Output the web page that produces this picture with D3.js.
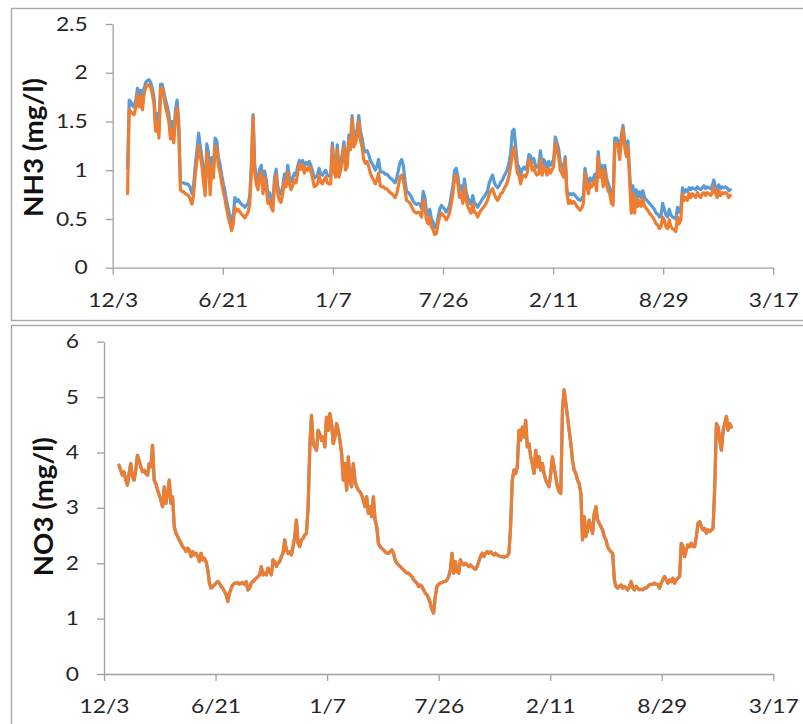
<!DOCTYPE html>
<html>
<head>
<meta charset="utf-8">
<script src="https://cdn.jsdelivr.net/npm/d3@7"></script>
<style>
  html, body { margin: 0; padding: 0; background: #fff; }
  svg { display: block; }
</style>
</head>
<body>
<svg id="chart" width="803" height="724"></svg>
<script>
// Sampling: one reading every 3 days, starting 2013-12-30
const seriesStart = "2013-12-30";
const stepDays = 3;

// Date axis: major unit of 200 days
const xTickDates = ["2013-12-03", "2014-06-21", "2015-01-07", "2015-07-26", "2016-02-11", "2016-08-29", "2017-03-17"];
const nh3Ticks = [0, 0.5, 1, 1.5, 2, 2.5];
const no3Ticks = [0, 1, 2, 3, 4, 5, 6];

// NH3 (mg/l), probe 1 (blue)
const nh3Probe1 = [
  1.02,
  1.72,1.70,1.66,1.65,1.72,1.84,1.74,1.82,1.70,1.84,1.90,1.92,1.93,1.90,1.84,1.75,1.48,1.58,1.40,1.88,1.88,1.80,1.72,1.66,1.58,1.40,1.50,1.36,1.62,1.72,1.50,
  0.88,0.87,0.87,0.86,0.86,0.85,0.82,0.76,
  0.85,1.05,1.20,1.38,1.25,1.13,0.97,0.84,1.27,1.17,0.85,1.13,1.02,1.33,1.30,1.13,1.06,0.95,0.86,0.78,0.68,0.60,0.53,0.46,0.54,0.72,0.68,0.70,0.67,0.65,0.64,0.62,0.64,0.66,0.74,
  1.08,1.57,1.05,0.93,0.88,1.01,1.05,0.84,0.99,0.90,0.74,0.77,0.70,0.66,0.93,1.01,0.83,0.77,0.75,0.84,0.96,0.91,1.05,0.94,0.88,0.92,0.97,0.95,1.04,1.10,1.07,1.10,1.04,1.08,1.06,1.09,1.05,0.99,0.92,0.93,0.95,1.02,0.96,0.95,0.98,1.00,
  0.95,0.94,0.94,1.28,1.07,1.01,1.26,1.01,1.07,1.17,1.29,1.07,1.11,1.36,1.28,
  1.56,1.32,1.36,1.42,1.56,1.40,1.33,
  1.22,1.19,1.20,1.16,1.10,1.07,1.04,1.00,1.04,1.11,0.99,0.98,0.98,0.96,0.96,0.94,0.92,0.91,0.89,0.87,0.92,1.00,1.08,1.11,1.05,
  0.89,0.78,0.77,0.75,0.72,0.68,0.66,0.65,0.66,0.65,0.61,0.78,0.72,0.58,0.54,0.60,0.50,0.47,0.41,0.42,0.52,0.60,0.64,0.62,0.60,0.57,0.60,0.64,
  0.74,0.84,1.00,1.02,0.94,0.80,0.84,0.75,0.91,0.78,0.72,0.68,0.65,0.74,0.66,0.65,0.62,0.65,0.68,0.71,0.73,0.76,0.79,
  0.87,0.91,0.95,0.88,0.84,0.82,0.84,0.88,0.90,0.94,0.97,1.01,1.08,1.18,
  1.40,1.42,1.25,1.06,1.03,0.95,1.01,1.03,1.01,1.05,1.16,1.15,1.08,1.12,
  1.05,1.03,1.05,1.20,1.03,1.11,1.08,1.03,1.09,1.05,1.08,1.11,1.34,1.28,1.22,1.08,1.05,1.01,1.14,
  0.80,0.74,0.76,0.75,0.76,0.74,0.72,0.70,0.69,0.71,0.74,
  1.02,0.92,0.83,0.92,0.89,0.92,0.96,0.86,1.19,0.99,1.05,0.89,1.05,0.92,0.86,0.82,0.72,0.70,
  1.33,1.33,1.30,1.18,1.36,1.46,1.30,1.24,1.30,0.98,
  0.66,0.84,0.66,0.80,0.72,0.78,0.72,0.79,0.72,0.70,0.68,0.66,0.64,0.62,0.60,0.56,0.55,0.52,0.53,
  0.66,0.60,0.54,0.52,0.60,0.54,0.52,0.51,0.50,0.62,0.57,0.60,
  0.82,0.77,0.80,0.78,0.82,0.80,0.82,0.81,0.80,0.83,0.81,0.80,0.82,0.84,0.81,0.83,0.82,0.81,0.84,0.90,0.82,0.80,0.85,0.81,0.83,0.82,0.83,0.82,0.79,0.80
];

// NH3 (mg/l), probe 2 (orange)
const nh3Probe2 = [
  0.76,1.62,1.60,1.58,1.57,1.65,1.78,1.65,1.75,1.62,
  1.78,1.85,1.87,1.88,1.85,1.78,1.68,1.40,1.50,1.33,
  1.84,1.84,1.75,1.65,1.58,1.50,1.32,1.42,1.28,1.55,
  1.64,1.40,0.80,0.78,0.78,0.76,0.75,0.74,0.70,0.65,
  0.75,0.95,1.10,1.25,1.15,1.05,0.88,0.74,1.18,1.08,
  0.75,1.05,0.92,1.25,1.22,1.05,0.98,0.87,0.78,0.70,
  0.60,0.52,0.45,0.38,0.45,0.62,0.58,0.60,0.57,0.55,
  0.53,0.51,0.54,0.57,0.65,1.00,1.55,0.98,0.85,0.80,
  0.94,0.98,0.76,0.92,0.82,0.66,0.69,0.62,0.58,0.86,
  0.95,0.75,0.69,0.67,0.77,0.89,0.83,0.98,0.86,0.80,
  0.84,0.90,0.87,0.97,1.06,1.01,1.06,0.97,1.02,1.00,
  1.04,0.99,0.92,0.83,0.84,0.86,0.95,0.88,0.86,0.90,
  0.93,
  0.87,0.86,0.86,1.24,1.00,0.93,1.21,0.93,1.00,1.11,
  1.24,1.00,1.04,1.31,1.21,1.53,1.24,1.28,1.35,1.50,
  1.31,1.24,1.11,1.07,1.09,1.04,0.97,0.93,0.90,0.86,
  0.90,0.97,0.84,0.83,0.83,0.81,0.81,0.79,0.77,0.76,
  0.74,0.72,0.76,0.84,0.93,0.95,0.90,0.79,0.69,0.68,
  0.66,0.63,0.59,0.57,0.56,0.57,0.56,0.52,0.69,0.63,
  0.49,0.45,0.52,0.42,0.39,0.34,0.35,0.45,0.52,0.56,
  0.54,0.52,0.49,0.52,0.56,0.66,0.76,0.93,0.95,0.86,
  0.72,0.76,0.66,0.83,0.69,0.63,0.59,0.56,0.66,0.57,
  0.56,0.52,0.56,0.59,0.61,0.63,0.66,0.69,0.76,0.79,
  0.81,0.76,0.72,0.69,0.72,0.76,0.77,0.81,0.84,0.88,
  0.95,1.04,1.18,1.24,1.11,0.97,0.95,0.86,0.93,0.95,
  0.93,0.97,1.11,1.09,1.00,1.04,
  0.97,0.95,0.97,1.11,0.95,1.04,1.00,0.95,1.02,0.97,
  1.00,1.04,1.28,1.21,1.14,1.00,0.97,0.93,1.11,0.76,
  0.66,0.69,0.66,0.68,0.66,0.63,0.61,0.59,0.61,0.66,
  0.97,0.86,0.76,0.86,0.83,0.86,0.90,0.79,1.14,0.93,
  1.00,0.83,1.00,0.86,0.79,0.76,0.66,0.64,1.24,1.28,
  1.24,1.11,1.31,1.43,1.24,1.14,1.24,0.90,0.56,0.76,
  0.56,0.72,0.63,0.69,0.63,0.71,0.63,0.61,0.59,0.56,
  0.54,0.52,0.49,0.45,0.44,0.40,0.42,0.52,0.49,0.42,
  0.40,0.49,0.42,0.40,0.39,0.37,0.52,0.45,0.49,0.76,
  0.69,0.72,0.69,0.76,0.72,0.76,0.74,0.72,0.77,0.74,
  0.72,0.76,0.77,0.74,0.77,0.76,0.74,0.77,0.83,0.76,
  0.72,0.79,0.74,0.77,0.76,0.77,0.76,0.72,0.74
];

// NO3 (mg/l); both probes agree to within the line width, so one array serves both
const no3Values = [
  3.77,3.68,3.59,3.65,3.50,3.41,3.62,3.80,3.56,3.50,
  3.68,3.95,3.86,3.74,3.65,3.68,3.62,3.59,3.80,3.74,
  4.13,3.50,3.44,3.32,3.23,3.14,3.02,3.38,3.08,3.26,
  3.50,3.08,3.20,2.66,2.54,2.48,2.42,2.36,2.30,2.27,
  2.21,2.27,2.24,2.12,2.21,2.15,2.18,2.12,2.03,2.18,
  2.06,2.09,2.03,1.88,1.64,1.55,1.58,1.61,1.64,1.67,
  1.64,1.58,1.55,1.49,1.43,1.31,1.46,1.55,1.61,1.64,
  1.64,1.65,1.62,1.64,1.65,1.62,1.67,1.52,1.55,1.64,
  1.67,1.70,1.73,1.76,1.79,1.94,1.79,1.82,1.79,1.91,
  1.85,1.79,2.06,2.03,1.94,2.00,2.03,2.12,2.18,2.42,
  2.24,2.18,2.21,2.15,2.30,2.48,2.78,2.36,2.30,2.42,
  2.45,2.51,2.54,3.02,4.10,4.67,4.16,4.10,4.04,4.40,
  4.34,
  4.22,4.28,4.10,4.64,4.40,4.70,4.52,4.16,4.28,4.52,
  4.40,4.22,3.98,3.50,3.80,3.32,3.92,3.50,3.38,3.80,
  3.50,3.38,3.32,3.29,3.23,3.14,3.02,3.20,2.90,3.02,
  2.84,3.20,2.78,2.66,2.36,2.30,2.27,2.24,2.21,2.18,
  2.18,2.21,2.24,2.18,2.06,2.00,1.97,1.94,1.91,1.88,
  1.85,1.82,1.82,1.79,1.76,1.70,1.67,1.64,1.58,1.61,
  1.58,1.52,1.46,1.43,1.37,1.28,1.16,1.10,1.40,1.58,
  1.62,1.64,1.65,1.67,1.67,1.70,1.76,1.88,2.18,1.82,
  2.03,1.85,1.82,2.06,2.00,1.97,2.00,1.97,1.94,1.97,
  1.94,1.91,1.89,1.94,2.03,2.12,2.18,2.12,2.18,2.21,
  2.18,2.21,2.18,2.15,2.18,2.15,2.13,2.12,2.12,2.11,
  2.12,2.13,2.18,2.66,3.50,3.68,3.62,3.74,4.40,4.22,
  4.46,
  4.28,4.58,4.10,4.16,3.92,3.80,3.62,4.04,3.74,3.92,
  3.68,3.80,3.62,3.50,3.44,3.38,3.62,3.92,3.74,3.56,
  3.38,3.29,3.26,4.77,5.13,4.89,4.65,4.40,4.16,3.86,
  3.68,3.62,3.50,3.44,3.26,2.42,2.84,2.48,2.60,2.78,
  2.66,2.54,2.90,3.02,2.78,2.72,2.66,2.60,2.48,2.42,
  2.30,2.24,2.21,2.18,1.70,1.58,1.55,1.58,1.61,1.55,
  1.58,1.55,1.52,1.58,1.67,1.55,1.52,1.58,1.55,1.52,
  1.53,1.52,1.55,1.55,1.58,1.61,1.62,1.62,1.64,1.62,
  1.62,1.55,1.64,1.70,1.76,1.70,1.64,1.70,1.67,1.73,
  1.64,1.70,1.73,1.76,2.36,2.30,2.12,2.24,2.33,2.30,
  2.36,2.30,2.30,2.48,2.72,2.75,2.66,2.60,2.63,2.54,
  2.60,2.57,2.60,2.63,3.38,4.52,4.46,4.22,4.04,4.40,
  4.52,4.65,4.40,4.52,4.46
];

const BLUE = "#5B9BD5";
const ORANGE = "#ED7D31";
const AXIS_GRAY = "#a0a0a0";
const FRAME_GRAY = "#a8a8a8";
const LABEL_STRETCH = 1.2;

const parseDate = d3.utcParse("%Y-%m-%d");
const t0 = parseDate(seriesStart);
const dateAt = i => d3.utcDay.offset(t0, i * stepDays);
const tickDates = xTickDates.map(parseDate);
const fmtDate = d3.utcFormat("%-m/%-d");

const svg = d3.select("#chart");
svg.append("rect").attr("width", 803).attr("height", 724).attr("fill", "#fff");

const panels = [
  {
    frame: { x: 11.5, y: 8.5, w: 800, h: 312 },
    plot: { left: 112.7, right: 773.3, top: 24, bottom: 267.7 },
    yTicks: nh3Ticks, title: "NH3 (mg/l)", titleX: 43, titleY: 147.5,
    series: [{ values: nh3Probe1, color: BLUE }, { values: nh3Probe2, color: ORANGE }]
  },
  {
    frame: { x: 11.5, y: 325.5, w: 800, h: 420 },
    plot: { left: 104, right: 773.3, top: 341.7, bottom: 674 },
    yTicks: no3Ticks, title: "NO3 (mg/l)", titleX: 53, titleY: 506.7,
    series: [{ values: no3Values, color: BLUE }, { values: no3Values, color: ORANGE }]
  }
];

panels.forEach(p => {
  const g = svg.append("g");

  g.append("rect")
    .attr("x", p.frame.x).attr("y", p.frame.y)
    .attr("width", p.frame.w).attr("height", p.frame.h)
    .attr("fill", "#fff").attr("stroke", FRAME_GRAY).attr("stroke-width", 1.4);

  const x = d3.scaleUtc()
    .domain([tickDates[0], tickDates[tickDates.length - 1]])
    .range([p.plot.left, p.plot.right]);
  const y = d3.scaleLinear()
    .domain([p.yTicks[0], p.yTicks[p.yTicks.length - 1]])
    .range([p.plot.bottom, p.plot.top]);

  // Y axis
  const yAxis = g.append("g")
    .attr("transform", `translate(${p.plot.left},0)`)
    .call(d3.axisLeft(y).tickValues(p.yTicks).tickFormat(d => String(d)).tickSize(7).tickSizeOuter(0));

  // X axis
  const xAxis = g.append("g")
    .attr("transform", `translate(0,${p.plot.bottom})`)
    .call(d3.axisBottom(x).tickValues(tickDates).tickFormat(fmtDate).tickSize(7).tickSizeOuter(0));

  [yAxis, xAxis].forEach(a => {
    a.select(".domain").attr("stroke", AXIS_GRAY).attr("stroke-width", 1.3);
    a.selectAll(".tick line").attr("stroke", AXIS_GRAY).attr("stroke-width", 1.3);
    a.selectAll(".tick text")
      .attr("fill", "#262626")
      .style("font-family", "Lato, 'Open Sans', sans-serif")
      .style("font-size", "19px");
  });
  yAxis.selectAll(".tick text")
    .attr("x", -25 / LABEL_STRETCH)
    .attr("transform", `scale(${LABEL_STRETCH},1)`);
  xAxis.selectAll(".tick text")
    .attr("y", 39).attr("dy", null)
    .attr("transform", `scale(${LABEL_STRETCH},1)`);

  // Axis title
  g.append("text")
    .attr("transform", `translate(${p.titleX},${p.titleY}) rotate(-90)`)
    .attr("text-anchor", "middle")
    .attr("fill", "#111")
    .attr("textLength", 139)
    .attr("lengthAdjust", "spacingAndGlyphs")
    .style("font-family", "Lato, 'Open Sans', sans-serif")
    .style("font-weight", "bold")
    .style("font-size", "26px")
    .text(p.title);

  // Series
  const line = d3.line()
    .x((d, i) => x(dateAt(i)))
    .y(d => y(d));
  p.series.forEach(s => {
    g.append("path")
      .datum(s.values)
      .attr("fill", "none")
      .attr("stroke", s.color)
      .attr("stroke-width", 3.2)
      .attr("stroke-linejoin", "round")
      .attr("stroke-linecap", "round")
      .attr("d", line);
  });
});
</script>
</body>
</html>
